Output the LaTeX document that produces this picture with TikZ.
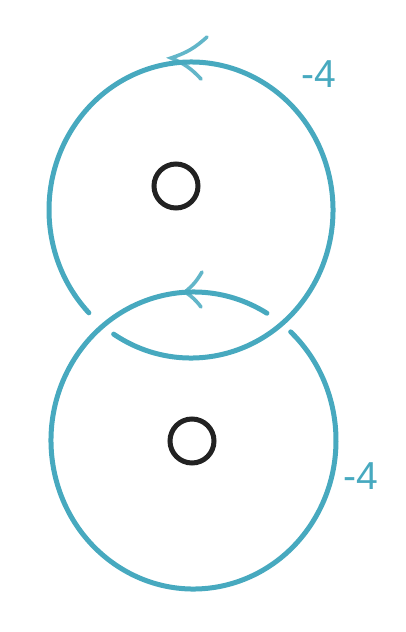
\documentclass[tikz,border=0pt]{standalone}
\usepackage{fontspec}
\setmainfont{Liberation Sans}
\definecolor{teal1}{HTML}{47A9BF}
\definecolor{ink}{HTML}{222222}
\begin{document}
\begin{tikzpicture}[x=1pt,y=1pt,
  strand/.style={draw=teal1,line width=5pt,line cap=round},
  tipstroke/.style={draw=teal1,line width=3.6pt,line cap=round,opacity=0.85},
  hole/.style={circle,draw=ink,line width=5pt,minimum size=44pt,inner sep=0pt},
  lbl/.style={text=teal1,font=\fontsize{39}{39}\selectfont,inner sep=0pt}]
\useasboundingbox (0,0) rectangle (406,-632);
\coordinate (ctop) at (191,-210);
\coordinate (cbot) at (193.5,-440.5);
% top component (under at the left crossing)
\draw[strand] ([shift={(237:142 and 148)}]ctop) arc[start angle=237,end angle=584,x radius=142,y radius=148];
% bottom component (under at the right crossing)
\draw[strand] ([shift={(59:142.5 and 148.5)}]cbot) arc[start angle=59,end angle=407,x radius=142.5,y radius=148.5];
% orientation marks
\coordinate (ta) at (207,-37);
\coordinate (tt) at (171,-58);
\coordinate (tb) at (201,-79);
\draw[tipstroke] (ta) to[bend left=12] (tt) to[bend left=12] (tb);
\coordinate (ba) at (202,-272);
\coordinate (bt) at (185,-292);
\coordinate (bb) at (201,-307);
\draw[tipstroke] (ba) to[bend left=10] (bt) to[bend left=10] (bb);
% punctures
\node[hole] (h1) at (176,-186) {};
\node[hole] (h2) at (192,-441) {};
% framings
\node[lbl] (l1) at (319,-74) {-4};
\node[lbl] (l2) at (361,-476) {-4};
\end{tikzpicture}
\end{document}
